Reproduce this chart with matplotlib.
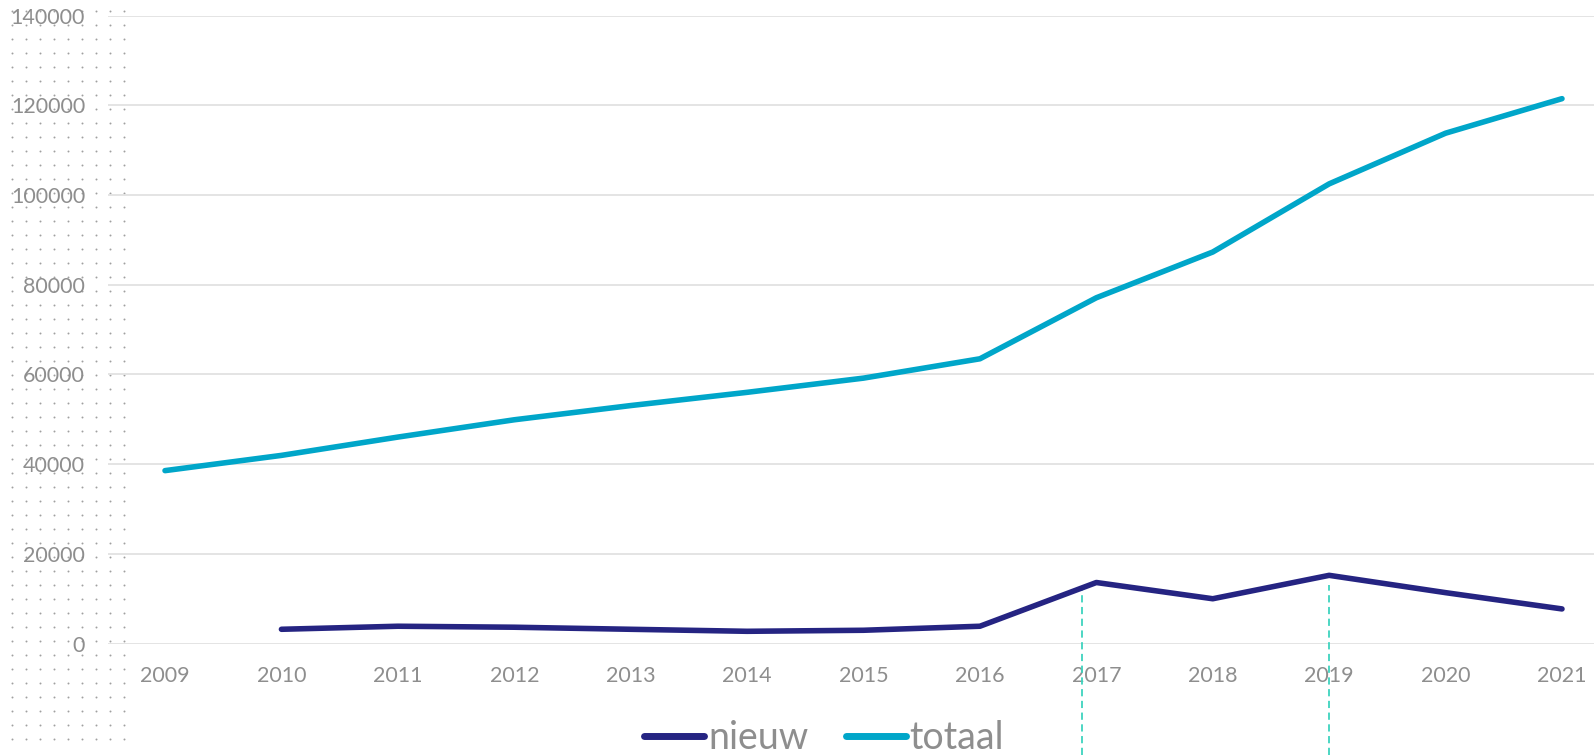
import numpy as np
import matplotlib
matplotlib.use("Agg")
import matplotlib.pyplot as plt
from matplotlib.lines import Line2D

years = list(range(2009, 2022))
totaal = [38550, 41950, 46030, 49890, 53060, 56010, 59180, 63490, 77100, 87300, 102500, 113800, 121500]
nieuw_years = list(range(2010, 2022))
nieuw = [3170, 3850, 3630, 3170, 2720, 2950, 3850, 13600, 9980, 15200, 11340, 7710]
yticks = [0, 20000, 40000, 60000, 80000, 100000, 120000, 140000]
marker_x = [2016.88, 2019.0]
marker_top = [12400, 13000]

C_NIEUW = "#252482"
C_TOTAAL = "#00A6C9"
C_MARK = "#3ED3BE"
C_TEXT = "#8E8E8E"
C_GRID = "#E2E2E2"

plt.rcParams['font.family'] = ['Lato', 'DejaVu Sans']

W, H = 1594, 755
fig = plt.figure(figsize=(W / 100, H / 100), dpi=100)

# decorative dot pattern on the left
bg = fig.add_axes([0, 0, 1, 1])
bg.set_xlim(0, W)
bg.set_ylim(H, 0)
bg.axis('off')
dx = np.arange(11.7, 124, 14.0)
dy = np.arange(11.0, 750, 14.0)
gx, gy = np.meshgrid(dx, dy)
bg.scatter(gx.ravel(), gy.ravel(), s=2.0, color="#A0A0A0", linewidths=0)

left, right = 108 / W, 1.0
top_px, bot_px = 15.7, 643.5
ax = fig.add_axes([left, 1 - bot_px / H, right - left, (bot_px - top_px) / H])
ax.patch.set_alpha(0)
ax.set_ylim(0, 140000)
ax.set_xlim(2009 - 57 / 116.4, 2021 + 32 / 116.4)

for s in ax.spines.values():
    s.set_visible(False)
ax.set_yticks(yticks)
ax.set_yticklabels([str(v) for v in yticks])
ax.set_xticks(years)
ax.set_xticklabels([str(y) for y in years])
ax.tick_params(axis='both', length=0, colors=C_TEXT, labelsize=15.5)
ax.tick_params(axis='y', pad=16.5)
ax.tick_params(axis='x', pad=16)
ax.grid(axis='y', color=C_GRID, linewidth=1.3)
ax.set_axisbelow(True)

ax.plot(years, totaal, color=C_TOTAAL, linewidth=4.0, solid_capstyle='round', solid_joinstyle='round', zorder=3)
ax.plot(nieuw_years, nieuw, color=C_NIEUW, linewidth=4.0, solid_capstyle='round', solid_joinstyle='round', zorder=3)

ybottom = -(H - bot_px) / (bot_px - top_px) * 140000
for mx, mt in zip(marker_x, marker_top):
    ax.plot([mx, mx], [ybottom, mt], color=C_MARK, linewidth=1.3, linestyle=(0, (4, 2.5)), clip_on=False, zorder=2)

handles = [Line2D([0], [0], color=C_NIEUW, linewidth=5, solid_capstyle='round'),
           Line2D([0], [0], color=C_TOTAAL, linewidth=5, solid_capstyle='round')]
leg = fig.legend(handles, ["nieuw", "totaal"], loc='center', bbox_to_anchor=(824 / W, 1 - 738 / H),
                 ncol=2, frameon=False, fontsize=27, handlelength=1.6, handletextpad=0.1,
                 columnspacing=1.0, labelcolor=C_TEXT)

fig.savefig("out.png", dpi=100)
